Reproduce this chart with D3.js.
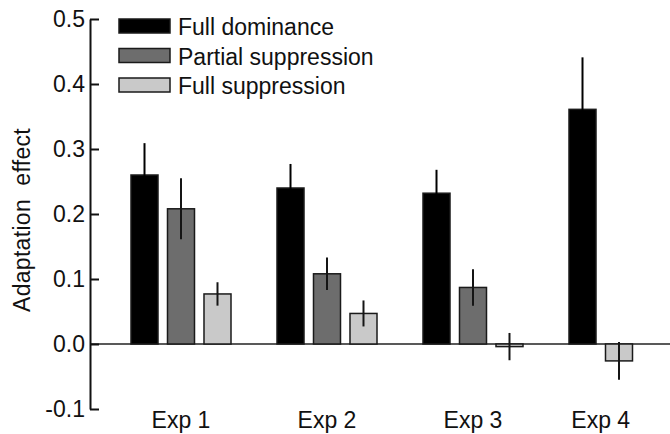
<!DOCTYPE html>
<html>
<head>
<meta charset="utf-8">
<script src="https://cdn.jsdelivr.net/npm/d3@7"></script>
<style>
  body { margin: 0; background: #fff; }
  svg { display: block; font-family: "Liberation Sans", Arial, sans-serif; }
</style>
</head>
<body>
<svg id="chart" width="670" height="434"></svg>
<script>
// data
const exps = ["Exp 1", "Exp 2", "Exp 3", "Exp 4"];
const seriesNames = ["Full dominance", "Partial suppression", "Full suppression"];
const fullDominance = [0.26, 0.24, 0.232, 0.361];
const fullDominanceErr = [0.049, 0.037, 0.036, 0.08];
const partialSuppression = [0.208, 0.108, 0.087, null];
const partialSuppressionErr = [0.047, 0.025, 0.028, null];
const fullSuppression = [0.077, 0.047, -0.004, -0.026];
const fullSuppressionErr = [0.018, 0.02, 0.021, 0.029];
const yTicks = [-0.1, 0, 0.1, 0.2, 0.3, 0.4, 0.5];

const fills = ["#000000", "#6d6d6d", "#c9c9c9"];
const values = [fullDominance, partialSuppression, fullSuppression];
const errs = [fullDominanceErr, partialSuppressionErr, fullSuppressionErr];

const svg = d3.select("#chart");
const W = 670;
const FS = 23;

// scales
const y = d3.scaleLinear().domain([-0.1, 0.5]).range([409, 19]);
const x = d3.scaleBand().domain(exps).range([131, 669])
  .paddingInner(46 / 146).paddingOuter(0);
const xi = d3.scaleBand().domain([0, 1, 2]).range([0, x.bandwidth()])
  .paddingInner(0.26).paddingOuter(0);

// build bars: present series fill slots left to right in each group
const bars = [];
const groupCenters = [];
exps.forEach((e, i) => {
  let slot = 0;
  values.forEach((vals, s) => {
    if (vals[i] == null) return;
    bars.push({ exp: e, s, slot, v: vals[i], err: errs[s][i] });
    slot++;
  });
  const x0 = x(e) + xi(0);
  const x1 = x(e) + xi(slot - 1) + xi.bandwidth();
  groupCenters.push({ exp: e, cx: (x0 + x1) / 2 });
});

// zero line
svg.append("line")
  .attr("x1", 90).attr("x2", W)
  .attr("y1", y(0)).attr("y2", y(0))
  .attr("stroke", "#222").attr("stroke-width", 1.6);

// bars
svg.append("g").selectAll("rect")
  .data(bars)
  .join("rect")
  .attr("x", d => x(d.exp) + xi(d.slot))
  .attr("width", xi.bandwidth())
  .attr("y", d => y(Math.max(0, d.v)))
  .attr("height", d => Math.abs(y(d.v) - y(0)))
  .attr("fill", d => fills[d.s])
  .attr("stroke", "#1a1a1a")
  .attr("stroke-width", 1.5);

// error bars
svg.append("g").selectAll("line")
  .data(bars)
  .join("line")
  .attr("x1", d => x(d.exp) + xi(d.slot) + xi.bandwidth() / 2)
  .attr("x2", d => x(d.exp) + xi(d.slot) + xi.bandwidth() / 2)
  .attr("y1", d => y(d.v + d.err))
  .attr("y2", d => y(d.v - d.err))
  .attr("stroke", d => d.s === 0 ? "#000" : "#151515")
  .attr("stroke-width", 2);

// y axis, ticks point inward
const yAxis = d3.axisLeft(y)
  .tickValues(yTicks)
  .tickFormat(d => d.toFixed(1))
  .tickSizeInner(-9)
  .tickSizeOuter(0)
  .tickPadding(5);

const gy = svg.append("g").attr("transform", "translate(90,0)").call(yAxis);
gy.attr("font-family", null).attr("font-size", null);
gy.select(".domain").attr("stroke", "#111").attr("stroke-width", 2);
gy.selectAll(".tick line").attr("stroke", "#111").attr("stroke-width", 2);
gy.selectAll(".tick text")
  .attr("font-size", FS)
  .attr("fill", "#111");

// y title
svg.append("text")
  .attr("transform", "translate(30,220) rotate(-90)")
  .attr("text-anchor", "middle")
  .attr("font-size", FS)
  .attr("letter-spacing", 0.3)
  .attr("fill", "#111")
  .style("white-space", "pre")
  .text("Adaptation  effect");

// x labels
svg.append("g").selectAll("text")
  .data(groupCenters)
  .join("text")
  .attr("x", d => d.cx)
  .attr("y", 428)
  .attr("text-anchor", "middle")
  .attr("font-size", FS)
  .attr("fill", "#111")
  .text(d => d.exp);

// legend
const legend = svg.append("g").attr("transform", "translate(119,19)");
const li = legend.selectAll("g")
  .data(seriesNames)
  .join("g")
  .attr("transform", (d, i) => `translate(0,${i * 29.5})`);
li.append("rect")
  .attr("width", 51).attr("height", 14)
  .attr("fill", (d, i) => fills[i])
  .attr("stroke", "#1a1a1a").attr("stroke-width", 1.5);
li.append("text")
  .attr("x", 59).attr("y", 16)
  .attr("font-size", FS)
  .attr("fill", "#111")
  .text(d => d);
</script>
</body>
</html>
